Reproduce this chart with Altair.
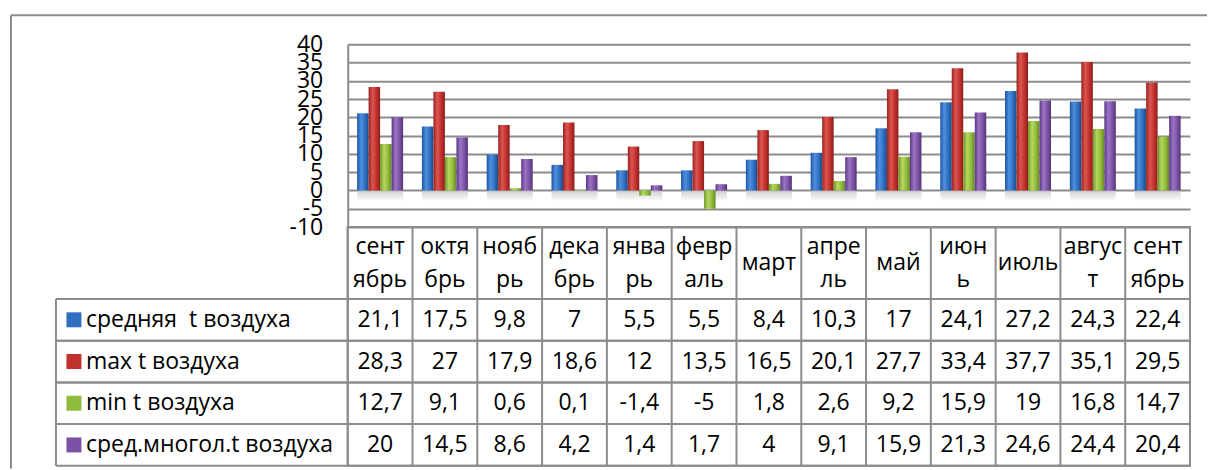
import altair as alt
import pandas as pd

# ---------------- data ----------------
month_labels = ["сент\nябрь", "октя\nбрь", "нояб\nрь", "дека\nбрь", "янва\nрь", "февр\nаль",
                "март", "апре\nль", "май", "июн\nь", "июль", "авгус\nт", "сент\nябрь"]
series = ["средняя \u00a0t воздуха", "max t воздуха", "min t воздуха", "сред.многол.t воздуха"]
mean_t = [21.1, 17.5, 9.8, 7, 5.5, 5.5, 8.4, 10.3, 17, 24.1, 27.2, 24.3, 22.4]
max_t = [28.3, 27, 17.9, 18.6, 12, 13.5, 16.5, 20.1, 27.7, 33.4, 37.7, 35.1, 29.5]
min_t = [12.7, 9.1, 0.6, 0.1, -1.4, -5, 1.8, 2.6, 9.2, 15.9, 19, 16.8, 14.7]
clim_t = [20, 14.5, 8.6, 4.2, 1.4, 1.7, 4, 9.1, 15.9, 21.3, 24.6, 24.4, 20.4]
y_ticks = [-10, -5, 0, 5, 10, 15, 20, 25, 30, 35, 40]

colors = ["#2f6fc0", "#c0302c", "#8fba3a", "#7b52a5"]
grad_stops = [
    ["#1d559f", "#4f8ee0", "#2e6fc0", "#1a4a8c"],
    ["#9a2320", "#dc5550", "#c0302c", "#8a1e1b"],
    ["#6e9428", "#b6d85e", "#8fba3a", "#66872a"],
    ["#5b3883", "#9c74c6", "#7b52a5", "#553377"],
]

rows = []
for s, vals in zip(series, [mean_t, max_t, min_t, clim_t]):
    for i, v in enumerate(vals):
        rows.append({"idx": i, "series": s, "value": v, "text": f"{v:g}".replace(".", ",")})
df = pd.DataFrame(rows)
months_df = pd.DataFrame({"idx": list(range(len(month_labels))), "label": month_labels,
                          "two": ["\n" in m for m in month_labels]})
series_df = pd.DataFrame({"series": series})
one = pd.DataFrame({"k": [0]})

GRAY = "#8c8c8c"
FONT = "Open Sans"
FS = 23
W = 843

# ---------------- bar chart ----------------
x_bar = alt.X("idx:O", axis=None, scale=alt.Scale(paddingInner=0.29, paddingOuter=0.145))
y_scale = alt.Scale(domain=[-10, 40], nice=False, zero=False)
y_axis = alt.Axis(values=y_ticks, title=None, grid=True, gridColor=GRAY, gridWidth=2,
                  domain=True, domainColor=GRAY, domainWidth=2, ticks=False,
                  labelFont=FONT, labelFontSize=FS, labelColor="black", labelPadding=25,
                  labelOverlap=False, labelExpr="'' + datum.value")
xoff = alt.XOffset("series:N", scale=alt.Scale(domain=series, paddingInner=0, paddingOuter=0))

shadow = alt.Chart(months_df).mark_bar(
    color=alt.LinearGradient(gradient="linear", x1=0, x2=0, y1=0, y2=1,
                             stops=[alt.GradientStop(offset=0, color="#c4c4c4"),
                                    alt.GradientStop(offset=1, color="#ffffff")]),
    opacity=0.8,
).encode(x=x_bar, y=alt.Y(datum=0, scale=y_scale, axis=y_axis), y2=alt.datum(-3))

bar_layers = []
for s, st in zip(series, grad_stops):
    grad = alt.LinearGradient(gradient="linear", x1=0, x2=1, y1=0, y2=0,
                              stops=[alt.GradientStop(offset=0, color=st[0]),
                                     alt.GradientStop(offset=0.35, color=st[1]),
                                     alt.GradientStop(offset=0.7, color=st[2]),
                                     alt.GradientStop(offset=1, color=st[3])])
    bar_layers.append(
        alt.Chart(df).transform_filter(alt.datum.series == s).mark_bar(color=grad).encode(
            x=x_bar, xOffset=xoff,
            y=alt.Y("value:Q", scale=y_scale, axis=y_axis),
            y2=alt.datum(0),
        )
    )

frame_top = alt.Chart(one).mark_rule(color=GRAY, strokeWidth=2).encode(
    x=alt.value(-337), x2=alt.value(860), y=alt.value(-29))
frame_left = alt.Chart(one).mark_rule(color=GRAY, strokeWidth=2).encode(
    x=alt.value(-337), y=alt.value(-29), y2=alt.value(425))

bars = alt.layer(shadow, *bar_layers, frame_top, frame_left).properties(width=W, height=183)

# ---------------- header row ----------------
x_tab = alt.X("idx:O", axis=None, scale=alt.Scale(paddingInner=0, paddingOuter=0))
x_edge = alt.X("idx:O", axis=None, bandPosition=0, scale=alt.Scale(paddingInner=0, paddingOuter=0))

hdr_lines = alt.Chart(months_df).mark_rule(color=GRAY, strokeWidth=2).encode(x=x_edge)
hdr_two = alt.Chart(months_df).transform_filter("datum.two").mark_text(
    font=FONT, fontSize=FS, lineBreak="\n", lineHeight=33, baseline="middle", color="black",
    dy=-16).encode(x=x_tab, y=alt.value(36), text="label:N")
hdr_one = alt.Chart(months_df).transform_filter("!datum.two").mark_text(
    font=FONT, fontSize=FS, baseline="middle", color="black").encode(
    x=x_tab, y=alt.value(36), text="label:N")
header = alt.layer(hdr_lines, hdr_two, hdr_one).properties(
    width=W, height=72, view=alt.ViewBackground(stroke=GRAY, strokeWidth=2))

# ---------------- data table ----------------
y_tab = alt.Y("series:N", axis=None, scale=alt.Scale(domain=series, paddingInner=0, paddingOuter=0))
y_top = alt.Y("series:N", axis=None, bandPosition=0,
              scale=alt.Scale(domain=series, paddingInner=0, paddingOuter=0))
y_bot = alt.Y("series:N", axis=None, bandPosition=1,
              scale=alt.Scale(domain=series, paddingInner=0, paddingOuter=0))

t_vlines = alt.Chart(months_df).mark_rule(color=GRAY, strokeWidth=2).encode(x=x_edge)
t_hl_top = alt.Chart(series_df).mark_rule(color=GRAY, strokeWidth=2).encode(
    y=y_top, x=alt.value(-292), x2=alt.value(W))
t_hl_bot = alt.Chart(series_df).mark_rule(color=GRAY, strokeWidth=2).encode(
    y=y_bot, x=alt.value(-292), x2=alt.value(W))
t_left = alt.Chart(one).mark_rule(color=GRAY, strokeWidth=2).encode(
    x=alt.value(-292), y=alt.value(0), y2=alt.value(167))
cells = alt.Chart(df).mark_text(font=FONT, fontSize=FS, color="black", baseline="middle").encode(
    x=x_tab, y=y_tab, text="text:N")
keys = alt.Chart(series_df).mark_square(size=225, opacity=1).encode(
    x=alt.value(-274), y=y_tab,
    color=alt.Color("series:N", scale=alt.Scale(domain=series, range=colors), legend=None))
key_labels = alt.Chart(series_df).mark_text(font=FONT, fontSize=FS, color="black", align="left",
                                           baseline="middle").encode(
    x=alt.value(-262), y=y_tab, text="series:N")

table = alt.layer(t_vlines, t_hl_top, t_hl_bot, t_left, cells, keys, key_labels).properties(
    width=W, height=167, view=alt.ViewBackground(stroke=GRAY, strokeWidth=2))

chart = alt.vconcat(bars, header, table, spacing=0, bounds="flush").properties(
    padding={"left": 9, "top": 13, "right": 0, "bottom": 0},
    background="white",
).configure_view(stroke="transparent")

chart.save("out.html", embed_options={"renderer": "svg", "actions": False})
